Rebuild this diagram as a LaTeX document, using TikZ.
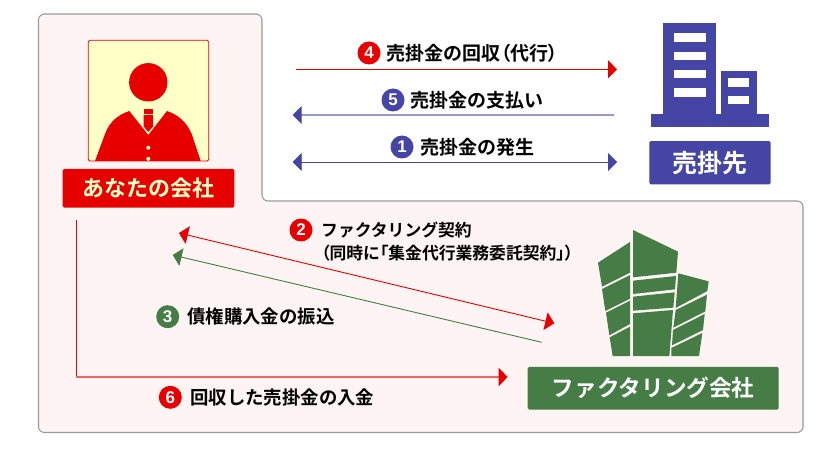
\documentclass[tikz,border=0pt]{standalone}
\usepackage{fontspec}
\setmainfont{Noto Sans CJK JP}[BoldFont={Noto Sans CJK JP Bold}]
\newfontfamily\pf{Noto Sans CJK JP}[BoldFont={Noto Sans CJK JP Bold},RawFeature=+palt]
\newfontfamily\numfont{Liberation Sans}[BoldFont={Liberation Sans Bold}]
\usetikzlibrary{arrows.meta}
\definecolor{cred}{HTML}{E60000}
\definecolor{cblue}{HTML}{4545A5}
\definecolor{cgreen}{HTML}{467C46}
\definecolor{cpanel}{HTML}{FDF4F3}
\definecolor{cyel}{HTML}{FFFFC8}
\definecolor{cborder}{HTML}{9A9A9A}
\newcommand{\nar}[1]{{\pf #1}}
\tikzset{
 badge/.style={circle,fill=#1,text=white,inner sep=0pt,minimum size=23pt,font=\numfont\bfseries\fontsize{17}{17}\selectfont},
 lab/.style={anchor=west,inner sep=0pt,text=black,font=\bfseries\fontsize{19}{19}\selectfont},
 labl/.style={anchor=west,inner sep=0pt,text=black,font=\bfseries\fontsize{18.4}{19}\selectfont},
 labsm/.style={anchor=west,inner sep=0pt,text=black,font=\bfseries\fontsize{16.8}{17}\selectfont},
 title/.style={inner sep=0pt,rounded corners=1.5pt,fill=#1,font=\bfseries},
 tip/.style={-{Triangle[length=9pt,width=18pt,color=#1]},draw=#1,line width=.9pt},
 tips/.style={{Triangle[length=9pt,width=18pt,color=#1]}-{Triangle[length=9pt,width=18pt,color=#1]},draw=#1,line width=.9pt},
}
\begin{document}
\begin{tikzpicture}[x=1pt,y=-1pt]
\useasboundingbox (0,0) rectangle (840,449);
\fill[white] (0,0) rectangle (840,449);
% panel
\draw[fill=cpanel,draw=cborder,line width=1.1pt,rounded corners=6pt]
 (38.5,14) -- (262,14) -- (262,201) -- (803,201) -- (803,432.5) -- (38.5,432.5) -- cycle;
% person
\draw[fill=cyel,draw=cred,line width=.8pt,rounded corners=1.5pt] (88.3,40.3) rectangle (208.7,161);
\fill[cred] (148.3,82.3) circle (19.2);
\fill[cred] (95,161) -- (105,134) .. controls (110,121) and (118,115) .. (129.3,111) -- (148.3,135) -- (167,111) .. controls (178,115) and (186,121) .. (191.7,134) -- (200.7,161) -- cycle;
\fill[cred] (143.7,109) rectangle (153,113.7);
\fill[cred] (143.7,115) -- (153,115) -- (153,126.5) -- (148.3,132) -- (143.7,126.5) -- cycle;
\fill[cyel] (148.3,147.7) circle (2);
\fill[cyel] (148.3,158.8) circle (2);
\node[title=cred,text=cyel,minimum width=171.6pt,minimum height=38.7pt,font=\bfseries\fontsize{22}{22}\selectfont] (you) at (148.5,188.3) {あなたの会社};
% blue building
\fill[cblue] (663.3,23.3) rectangle (716,127);
\fill[cblue] (651,114) rectangle (769,126.7);
\fill[cblue] (720.7,71) rectangle (756.7,114);
\foreach \yy in {33.3,51.7,70,88.3}{\fill[white] (674,\yy) rectangle (705.7,\yy+8.3);}
\foreach \yy in {78.3,95.7}{\fill[white] (728.3,\yy) rectangle (749,\yy+8.3);}
\node[title=cblue,text=white,minimum width=121.4pt,minimum height=43.3pt,font=\bfseries\fontsize{25}{25}\selectfont] (cust) at (710,162.7) {売掛先};
% green building
\begin{scope}[shift={(510,220)},x=.33333pt,y=-.33333pt]
\fill[cgreen] (264,128)--(360,66)--(360,158)--(276,200)--cycle;
\fill[cgreen] (276,207)--(360,165)--(360,236)--(286,273)--cycle;
\fill[cgreen] (288,278)--(360,242)--(360,312)--(298,346)--cycle;
\fill[cgreen] (299,352)--(360,320)--(360,408)--(308,408)--cycle;
\fill[cgreen] (369,30)--(504,95)--(499,158)--(369,172)--cycle;
\fill[cgreen] (369,182)--(498,168)--(495,208)--(369,222)--cycle;
\fill[cgreen] (369,230)--(494,217)--(490,263)--(369,272)--cycle;
\fill[cgreen] (369,280)--(489,270)--(478,408)--(369,408)--cycle;
\fill[cgreen] (505,160)--(596,184)--(592,213)--(497,264)--cycle;
\fill[cgreen] (497,270)--(591,224)--(586,274)--(490,323)--cycle;
\fill[cgreen] (489,330)--(584,282)--(579,330)--(486,376)--cycle;
\fill[cgreen] (484,384)--(577,339)--(567,408)--(484,408)--cycle;
\end{scope}
\node[title=cgreen,text=white,minimum width=251pt,minimum height=42.7pt,font=\bfseries\fontsize{22.6}{23}\selectfont] (fact) at (653.2,388.3) {ファクタリング会社};
% connector ends
\coordinate (a4s) at (296,69.3); \coordinate (a4e) at (617,69.3);
\coordinate (a5s) at (614,115); \coordinate (a5e) at (292.7,115);
\coordinate (a1s) at (292.7,162); \coordinate (a1e) at (617,162);
\coordinate (a2s) at (179,233); \coordinate (a2e) at (554.3,323.3);
\coordinate (a3s) at (541.7,342.3); \coordinate (a3e) at (172.7,255);
\coordinate (a6s) at (76.3,220); \coordinate (a6c) at (76.3,377); \coordinate (a6e) at (507.7,377);
\draw[tip=cred] (a4s) -- (a4e);
\draw[-{Triangle[length=9pt,width=18pt,color=cblue]},draw=cblue!55,line width=1.4pt] (a5s) -- (a5e);
\draw[tips=cblue] (a1s) -- (a1e);
\draw[tips=cred] (a2s) -- (a2e);
\draw[tip=cgreen] (a3s) -- (a3e);
\draw[cred,line width=.9pt] (a6s) -- (a6c);
\draw[-{Triangle[length=9pt,width=18pt,color=cred]},draw=cred!60,line width=1.3pt] (a6c) -- (a6e);
% labels
\node[badge=cred] (b4) at (369,53) {4};
\node[lab] (t4) at (386.5,53) {売掛金の回収\nar{（}代行\nar{）}};
\node[badge=cblue] (b5) at (393,100) {5};
\node[lab] (t5) at (410.5,100) {売掛金の支払い};
\node[badge=cblue] (b1) at (402,147) {1};
\node[lab] (t1) at (420,147) {売掛金の発生};
\node[badge=cred] (b2) at (301,230) {2};
\node[labsm] (t2) at (321,230) {ファクタリング契約};
\node[labsm] (t2b) at (321,253) {\nar{（}同時に\nar{「}集金代行業務委託契約\nar{」）}};
\node[badge=cgreen] (b3) at (167.7,316.7) {3};
\node[labl] (t3) at (187,316.7) {債権購入金の振込};
\node[badge=cred] (b6) at (170.3,397.3) {6};
\node[labl] (t6) at (190,397.3) {回収した売掛金の入金};
\end{tikzpicture}
\end{document}
